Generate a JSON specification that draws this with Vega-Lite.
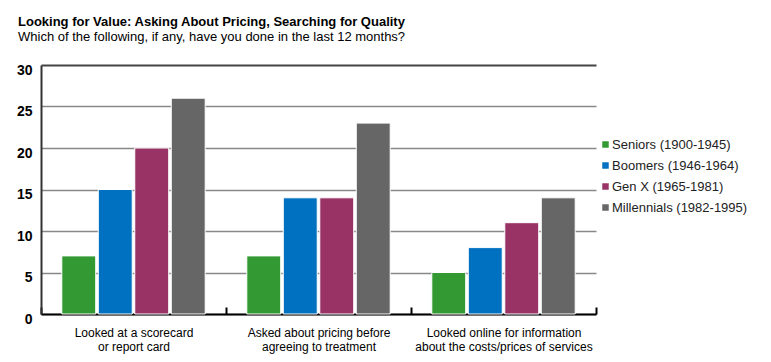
{
  "$schema": "https://vega.github.io/schema/vega-lite/v6.json",
  "autosize": "none",
  "width": 555,
  "height": 249,
  "padding": {"left": 41, "top": 65, "right": 175, "bottom": 48},
  "background": "white",
  "config": {
    "font": "Liberation Sans",
    "view": {"stroke": null}
  },
  "title": {
    "text": "Looking for Value: Asking About Pricing, Searching for Quality",
    "subtitle": "Which of the following, if any, have you done in the last 12 months?",
    "anchor": "start",
    "frame": "group",
    "dx": -23,
    "offset": 19,
    "font": "Liberation Sans",
    "fontSize": 13,
    "fontWeight": "bold",
    "color": "#000000",
    "subtitleFont": "Liberation Sans",
    "subtitleFontSize": 13,
    "subtitleColor": "#000000",
    "subtitlePadding": 2
  },
  "data": {
    "values": [
      {"activity": "Looked at a scorecard\nor report card", "generation": "Seniors (1900-1945)", "pct": 7},
      {"activity": "Looked at a scorecard\nor report card", "generation": "Boomers (1946-1964)", "pct": 15},
      {"activity": "Looked at a scorecard\nor report card", "generation": "Gen X (1965-1981)", "pct": 20},
      {"activity": "Looked at a scorecard\nor report card", "generation": "Millennials (1982-1995)", "pct": 26},
      {"activity": "Asked about pricing before\nagreeing to treatment", "generation": "Seniors (1900-1945)", "pct": 7},
      {"activity": "Asked about pricing before\nagreeing to treatment", "generation": "Boomers (1946-1964)", "pct": 14},
      {"activity": "Asked about pricing before\nagreeing to treatment", "generation": "Gen X (1965-1981)", "pct": 14},
      {"activity": "Asked about pricing before\nagreeing to treatment", "generation": "Millennials (1982-1995)", "pct": 23},
      {"activity": "Looked online for information\nabout the costs/prices of services", "generation": "Seniors (1900-1945)", "pct": 5},
      {"activity": "Looked online for information\nabout the costs/prices of services", "generation": "Boomers (1946-1964)", "pct": 8},
      {"activity": "Looked online for information\nabout the costs/prices of services", "generation": "Gen X (1965-1981)", "pct": 11},
      {"activity": "Looked online for information\nabout the costs/prices of services", "generation": "Millennials (1982-1995)", "pct": 14}
    ]
  },
  "mark": {"type": "bar", "stroke": "white", "strokeWidth": 1},
  "encoding": {
    "x": {
      "field": "activity",
      "type": "nominal",
      "sort": null,
      "title": null,
      "scale": {"paddingInner": 0, "paddingOuter": 0},
      "axis": {
        "labelAngle": 0,
        "labelExpr": "split(datum.label, '\\n')",
        "labelFontSize": 12,
        "labelColor": "#000000",
        "labelLineHeight": 14,
        "labelPadding": 20,
        "labelLimit": 300,
        "domainColor": "#000000",
        "domainWidth": 2,
        "tickBand": "extent",
        "tickSize": -7,
        "tickColor": "#000000",
        "tickWidth": 2
      }
    },
    "xOffset": {
      "field": "generation",
      "type": "nominal",
      "sort": ["Seniors (1900-1945)", "Boomers (1946-1964)", "Gen X (1965-1981)", "Millennials (1982-1995)"],
      "scale": {"paddingInner": 0.07, "paddingOuter": 0.57}
    },
    "y": {
      "field": "pct",
      "type": "quantitative",
      "title": null,
      "scale": {"domain": [0, 30], "nice": false},
      "axis": {
        "values": [0, 5, 10, 15, 20, 25, 30],
        "labelFontSize": 14,
        "labelFontWeight": "bold",
        "labelColor": "#000000",
        "labelPadding": 9,
        "labelOffset": 5,
        "ticks": false,
        "domainColor": "#333333",
        "domainWidth": 2,
        "grid": true,
        "gridColor": {"condition": {"test": "datum.value == 30", "value": "#444444"}, "value": "#888888"},
        "gridWidth": {"condition": {"test": "datum.value == 30", "value": 2}, "value": 1.5}
      }
    },
    "color": {
      "field": "generation",
      "type": "nominal",
      "sort": ["Seniors (1900-1945)", "Boomers (1946-1964)", "Gen X (1965-1981)", "Millennials (1982-1995)"],
      "scale": {
        "domain": ["Seniors (1900-1945)", "Boomers (1946-1964)", "Gen X (1965-1981)", "Millennials (1982-1995)"],
        "range": ["#339933", "#0070C0", "#993366", "#666666"]
      },
      "legend": {
        "title": null,
        "orient": "none",
        "legendX": 558,
        "legendY": 73,
        "padding": 0,
        "symbolType": "square",
        "symbolSize": 42,
        "symbolStrokeWidth": 0,
        "labelFontSize": 13,
        "labelColor": "#222222",
        "labelOffset": 0,
        "rowPadding": 7
      }
    }
  }
}
